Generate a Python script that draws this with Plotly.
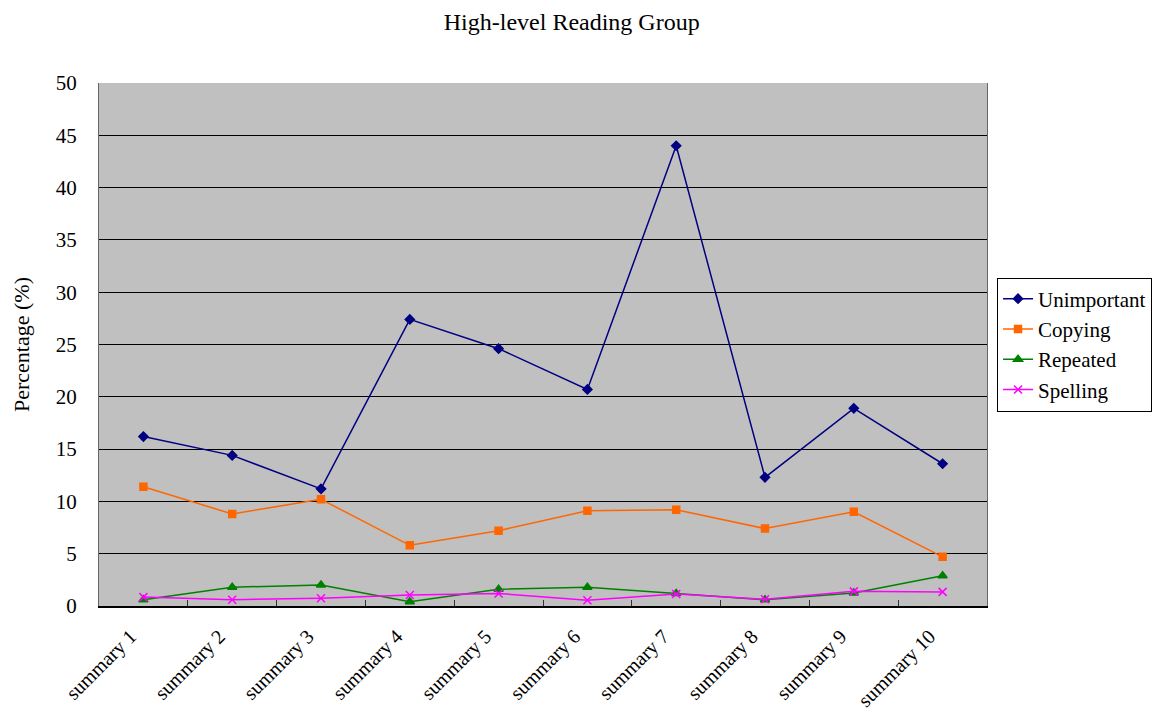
import plotly.graph_objects as go

categories = [f"summary {i}" for i in range(1, 11)]
unimportant = [16.2, 14.4, 11.2, 27.4, 24.6, 20.7, 44.0, 12.3, 18.9, 13.6]
copying = [11.4, 8.8, 10.2, 5.8, 7.2, 9.1, 9.2, 7.4, 9.0, 4.7]
repeated = [0.6, 1.8, 2.0, 0.4, 1.6, 1.8, 1.2, 0.6, 1.25, 2.9]
spelling = [0.85, 0.6, 0.75, 1.05, 1.2, 0.55, 1.15, 0.65, 1.4, 1.35]
y_ticks = list(range(0, 51, 5))

FONT = "Liberation Serif, Times New Roman, serif"

series = [
    ("Unimportant", unimportant, "#000080", "diamond", 7),
    ("Copying", copying, "#FF6600", "square", 7),
    ("Repeated", repeated, "#008000", "triangle-up", 8),
    ("Spelling", spelling, "#FF00FF", "x-thin", 8),
]

fig = go.Figure()
for name, vals, color, symbol, size in series:
    fig.add_trace(go.Scatter(
        x=categories, y=vals, name=name, mode="lines+markers",
        line=dict(color=color, width=1.5),
        marker=dict(symbol=symbol, size=size, color=color,
                    line=dict(color=color, width=1.5)),
    ))

fig.update_layout(
    width=1155, height=711,
    margin=dict(l=99, r=168, t=83, b=105, autoexpand=False),
    paper_bgcolor="white",
    plot_bgcolor="#C0C0C0",
    font=dict(family=FONT, size=20, color="black"),
    title=dict(text="High-level Reading Group", x=0.495, xanchor="center",
               y=0.970, yanchor="middle", font=dict(size=24)),
    legend=dict(x=1.0113, xanchor="left", y=0.5, yanchor="middle",
                bordercolor="black", borderwidth=1, bgcolor="white",
                font=dict(size=21), tracegroupgap=0),
    showlegend=True,
)
fig.update_xaxes(
    type="category", tickson="boundaries", ticks="inside", ticklen=6,
    tickcolor="#333333", tickangle=-45, showgrid=False,
    showline=True, linecolor="black", linewidth=1.5, mirror=False,
    range=[-0.5, 9.5], tickfont=dict(size=20),
    ticklabelstandoff=9, ticklabelshift=-13,
)
fig.update_yaxes(
    range=[0, 50], tickvals=y_ticks, ticks="",
    showgrid=True, gridcolor="black", gridwidth=1,
    showline=True, linecolor="#666666", linewidth=1, mirror=True,
    zeroline=False, tickfont=dict(size=21), ticklabelstandoff=17,
    title=dict(text="Percentage (%)", font=dict(size=22), standoff=20),
)

fig.write_html("out.html")
